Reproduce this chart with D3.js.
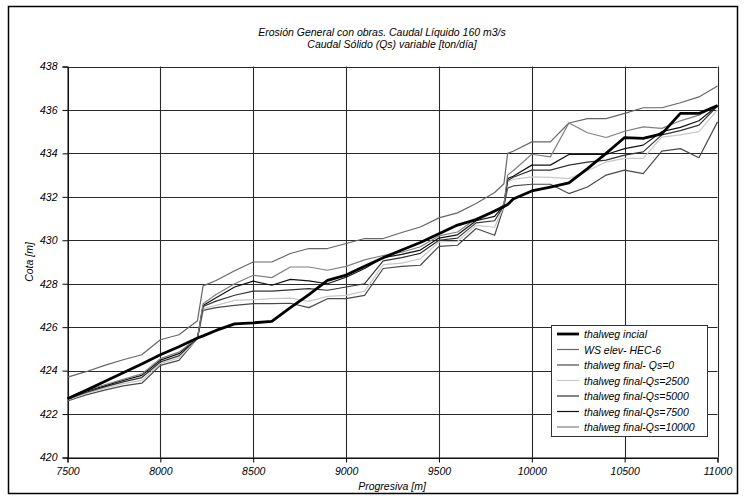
<!DOCTYPE html>
<html><head><meta charset="utf-8">
<script src="https://cdn.jsdelivr.net/npm/d3@7"></script>
<style>body{margin:0;background:#fff}svg{display:block}text{font-family:"Liberation Sans",Arial,sans-serif;font-style:italic;fill:#000}</style>
</head><body><div id="chart"></div>
<script>
const progresiva = [7500,7600,7700,7800,7900,8000,8100,8200,8230,8300,8400,8500,8600,8700,8800,8900,9000,9100,9200,9300,9400,9500,9600,9700,9800,9850,9870,9900,10000,10100,10200,10300,10400,10500,10600,10700,10800,10900,11000];
const thalwegInicial = [422.7,423.1,423.5,423.9,424.3,424.73,425.1,425.5,425.6,425.85,426.15,426.2,426.27,426.9,427.5,428.15,428.4,428.8,429.2,429.55,429.9,430.3,430.7,430.95,431.35,431.55,431.65,431.9,432.27,432.45,432.64,433.3,434.0,434.73,434.69,434.9,435.84,435.84,436.2];
const wsElev = [423.7,423.95,424.24,424.5,424.73,425.42,425.65,426.3,427.9,428.15,428.6,429.0,429.0,429.39,429.62,429.62,429.85,430.08,430.08,430.36,430.61,431.03,431.26,431.69,432.2,432.6,434.0,434.1,434.53,434.53,435.4,435.6,435.6,435.84,436.1,436.1,436.33,436.6,437.1];
const qs0 = [422.6,422.88,423.1,423.3,423.42,424.24,424.47,425.48,426.77,426.9,427.0,427.08,427.08,427.1,426.9,427.31,427.31,427.46,428.7,428.8,428.85,429.72,429.77,430.54,430.23,431.55,432.4,432.5,432.58,432.58,432.15,432.45,433.0,433.23,433.07,434.1,434.22,433.8,435.45];
const qs2500 = [422.65,422.95,423.18,423.4,423.55,424.32,424.58,425.48,426.85,427.0,427.23,427.27,427.31,427.34,427.19,427.42,427.46,427.66,428.88,428.95,429.15,429.92,429.95,430.69,430.6,431.58,432.7,432.8,432.92,432.9,432.84,433.2,433.6,433.77,433.77,434.75,434.85,435.0,436.0];
const qs5000 = [422.68,423.0,423.25,423.48,423.68,424.4,424.68,425.5,426.95,427.2,427.47,427.66,427.66,427.72,427.77,427.7,427.85,428.0,429.05,429.2,429.4,430.0,430.1,430.8,430.9,431.6,432.75,432.9,433.23,433.23,433.46,433.6,433.69,433.92,434.07,434.85,435.05,435.3,436.18];
const qs7500 = [422.72,423.05,423.3,423.55,423.78,424.48,424.78,425.5,427.0,427.35,427.85,428.12,427.93,428.2,428.13,428.0,428.3,428.7,429.2,429.35,429.55,430.1,430.25,430.9,431.1,431.62,432.84,432.95,433.46,433.46,433.95,433.95,433.95,434.22,434.38,435.0,435.2,435.5,436.2];
const qs10000 = [422.75,423.1,423.35,423.6,423.85,424.55,424.85,425.5,427.08,427.5,428.0,428.39,428.28,428.77,428.77,428.62,428.8,429.1,429.3,429.45,429.7,430.2,430.38,431.0,431.3,431.65,433.0,433.2,433.96,433.84,435.4,434.95,434.73,435.02,435.22,435.15,435.5,435.76,436.22];
const seriesNames = ["thalweg incial","WS elev- HEC-6","thalweg final- Qs=0","thalweg final-Qs=2500","thalweg final-Qs=5000","thalweg final-Qs=7500","thalweg final-Qs=10000"];
const xTicks = [7500,8000,8500,9000,9500,10000,10500,11000];
const yTicks = [420,422,424,426,428,430,432,434,436,438];
const titleLines = ["Erosión General con obras. Caudal Líquido 160 m3/s","Caudal Sólido (Qs) variable [ton/día]"];
const xLabel = "Progresiva [m]", yLabel = "Cota [m]";

(function(){
const W = 746, H = 496;
const svg = d3.select("#chart").append("svg").attr("width", W).attr("height", H);
svg.append("rect").attr("x",0).attr("y",0).attr("width",W).attr("height",H).attr("fill","#fff");
svg.append("rect").attr("x",8.5).attr("y",6.5).attr("width",729).attr("height",487).attr("fill","none").attr("stroke","#000").attr("stroke-width",1.5);

const pL = 67.5, pR = 717.5, pT = 66.5, pB = 457.5;
const x = d3.scaleLinear().domain([7500,11000]).range([pL,pR]);
const y = d3.scaleLinear().domain([420,438]).range([pB,pT]);

const g = svg.append("g");
g.selectAll(".vg").data(xTicks).join("line").attr("x1",d=>Math.round(x(d))+0.5).attr("x2",d=>Math.round(x(d))+0.5)
  .attr("y1",pT).attr("y2",pB).attr("stroke","#2a2a2a").attr("stroke-width",1.1);
g.selectAll(".hg").data(yTicks).join("line").attr("y1",d=>Math.round(y(d))+0.5).attr("y2",d=>Math.round(y(d))+0.5)
  .attr("x1",pL).attr("x2",pR).attr("stroke","#2a2a2a").attr("stroke-width",1.1);

const xAxis = d3.axisBottom(x).tickValues(xTicks).tickSize(5).tickPadding(5).tickFormat(d3.format("d"));
const yAxis = d3.axisLeft(y).tickValues(yTicks).tickSize(5).tickPadding(5).tickFormat(d3.format("d"));
const gx = svg.append("g").attr("transform",`translate(0,${pB})`).call(xAxis);
const gy = svg.append("g").attr("transform",`translate(${pL},0)`).call(yAxis);
[gx,gy].forEach(a=>{
  a.select(".domain").attr("stroke","#000");
  a.selectAll(".tick line").attr("stroke","#000");
  a.selectAll("text").style("font-size","10.5px").style("font-style","italic").style("font-family","'Liberation Sans',Arial,sans-serif").attr("fill","#000");
});

const data = [
  {name:seriesNames[1], v:wsElev, color:"#666", w:1.2},
  {name:seriesNames[2], v:qs0, color:"#4a4a4a", w:1.2},
  {name:seriesNames[3], v:qs2500, color:"#c8c8c8", w:1.2},
  {name:seriesNames[4], v:qs5000, color:"#333", w:1.2},
  {name:seriesNames[5], v:qs7500, color:"#111", w:1.2},
  {name:seriesNames[6], v:qs10000, color:"#808080", w:1.2},
  {name:seriesNames[0], v:thalwegInicial, color:"#000", w:2.8}
];
const line = d3.line().x((d,i)=>x(progresiva[i])).y(d=>y(d));
svg.append("g").selectAll("path").data(data).join("path")
  .attr("d",d=>line(d.v)).attr("fill","none").attr("stroke",d=>d.color).attr("stroke-width",d=>d.w).attr("stroke-linejoin","round");

svg.append("text").attr("x",382).attr("y",36).attr("text-anchor","middle").style("font-size","10.5px").text(titleLines[0]);
svg.append("text").attr("x",392).attr("y",48).attr("text-anchor","middle").style("font-size","10.5px").text(titleLines[1]);
svg.append("text").attr("x",392).attr("y",490).attr("text-anchor","middle").style("font-size","10.5px").text(xLabel);
svg.append("text").attr("transform",`translate(33,${(pT+pB)/2}) rotate(-90)`).attr("text-anchor","middle").style("font-size","10.5px").text(yLabel);

const legOrder = [data[6],data[0],data[1],data[2],data[3],data[4],data[5]];
const lg = svg.append("g");
lg.append("rect").attr("x",551.5).attr("y",325.5).attr("width",156).attr("height",111).attr("fill","#fff").attr("stroke","#333").attr("stroke-width",1);
legOrder.forEach((d,i)=>{
  const yy = 334 + i*15.5;
  lg.append("line").attr("x1",557).attr("x2",579).attr("y1",yy).attr("y2",yy).attr("stroke",d.color).attr("stroke-width",d.w);
  lg.append("text").attr("x",584).attr("y",yy+4).style("font-size","10.5px").text(d.name);
});
})();
</script></body></html>
